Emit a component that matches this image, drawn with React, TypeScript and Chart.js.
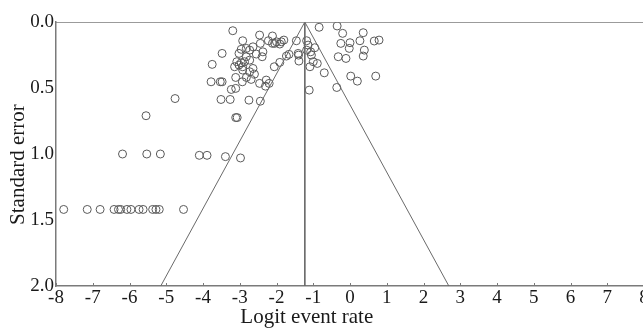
import React, { useEffect, useRef } from "react";
import { Chart, registerables } from "chart.js";

Chart.register(...registerables);

// Study effect sizes (logit event rate) and their standard errors
const studyLogit: number[] = [
  -3.19, -2.46, -2.11, -2.92, -2.22, -2.0, -1.8, -1.46, -1.18, -2.44,
  -2.11, -1.91, -1.14, -0.96, -0.84, -0.35, -0.2, 0.36, 0.27, 0.66,
  0.79, -0.25, 0.0, -0.02, 0.39, 0.36, -0.32, -0.11, 0.02, 0.2,
  0.7, -0.36, -0.7, -0.89, -1.09, -1.0, -1.11, -1.07, -1.05, -1.41,
  -1.39, -1.66, -1.73, -1.91, -2.06, -2.2, -2.28, -2.3, -2.46, -2.44,
  -2.75, -3.26, -3.51, -3.11, -3.07, -3.78, -3.53, -3.48, -3.23, -3.11,
  -3.11, -2.93, -2.82, -2.69, -2.6, -2.64, -2.92, -3.02, -3.14, -3.08,
  -2.96, -2.87, -2.73, -2.82, -3.02, -2.96, -2.82, -2.73, -2.64, -2.37,
  -2.55, -2.39, -3.48, -3.75, -2.92, -2.73, -2.05, -1.87, -1.18, -1.4,
  -5.55, -4.76,
  -6.19, -5.53, -5.16, -4.1, -3.89, -3.39, -2.98,
  -7.79, -7.15, -6.8, -6.42, -6.3, -6.24, -6.07, -5.96, -5.74, -5.63,
  -5.37, -5.28, -5.19, -4.53,
];
const studySE: number[] = [
  0.066, 0.099, 0.106, 0.142, 0.142, 0.15, 0.137, 0.142, 0.142, 0.162,
  0.162, 0.167, 0.175, 0.195, 0.04, 0.03, 0.086, 0.081, 0.142, 0.144,
  0.137, 0.162, 0.157, 0.2, 0.213, 0.258, 0.263, 0.276, 0.41, 0.448,
  0.41, 0.496, 0.385, 0.314, 0.339, 0.301, 0.516, 0.226, 0.251, 0.238,
  0.296, 0.245, 0.258, 0.306, 0.339, 0.465, 0.44, 0.486, 0.465, 0.6,
  0.592, 0.587, 0.587, 0.724, 0.724, 0.453, 0.453, 0.453, 0.511, 0.503,
  0.42, 0.453, 0.42, 0.435, 0.395, 0.352, 0.339, 0.326, 0.339, 0.301,
  0.309, 0.301, 0.289, 0.263, 0.238, 0.207, 0.2, 0.213, 0.188, 0.226,
  0.243, 0.263, 0.238, 0.321, 0.364, 0.377, 0.162, 0.15, 0.213, 0.251,
  0.71, 0.58,
  1.0, 1.0, 1.0, 1.01, 1.01, 1.02, 1.03,
  1.42, 1.42, 1.42, 1.42, 1.42, 1.42, 1.42, 1.42, 1.42, 1.42,
  1.42, 1.42, 1.42, 1.42,
];

// Pooled estimate and funnel (pseudo 95% limits) endpoints
const pooledLogit = -1.23;
const funnelX: number[] = [-5.15, -1.23, 2.69];
const funnelSE: number[] = [2.0, 0.0, 2.0];
const centerX: number[] = [-1.23, -1.23];
const centerSE: number[] = [0.0, 2.0];
const topLineX: number[] = [-8, 8];
const topLineSE: number[] = [0, 0];

const xTicks: number[] = [-8, -7, -6, -5, -4, -3, -2, -1, 0, 1, 2, 3, 4, 5, 6, 7, 8];
const yTicks: number[] = [0.0, 0.5, 1.0, 1.5, 2.0];

const xTitle = "Logit event rate";
const yTitle = "Standard error";

const FONT = "'Liberation Serif', 'Times New Roman', serif";

export default function App() {
  const ref = useRef<HTMLCanvasElement | null>(null);

  useEffect(() => {
    if (!ref.current) return;
    document.body.style.margin = "0";

    const axisGray = "#7a7a7a";

    const decorPlugin = {
      id: "decor",
      afterDraw(chart: any) {
        const ctx = chart.ctx;
        const xs = chart.scales.x;
        const ys = chart.scales.y;
        ctx.save();
        // inward tick marks on x axis
        ctx.strokeStyle = axisGray;
        ctx.lineWidth = 1;
        const yb = ys.getPixelForValue(2.0);
        xTicks.forEach((t) => {
          const px = Math.round(xs.getPixelForValue(t)) + 0.5;
          ctx.beginPath();
          ctx.moveTo(px, yb);
          ctx.lineTo(px, yb - 3);
          ctx.stroke();
        });
        // titles
        ctx.fillStyle = "#1a1a1a";
        ctx.font = `21px ${FONT}`;
        ctx.textAlign = "center";
        ctx.textBaseline = "alphabetic";
        ctx.fillText(xTitle, xs.getPixelForValue(pooledLogit) + 2, 323);
        ctx.translate(24, ys.getPixelForValue(1.08));
        ctx.rotate(-Math.PI / 2);
        ctx.fillText(yTitle, 0, 0);
        ctx.restore();
      },
    };

    const chart = new Chart(ref.current, {
      type: "scatter",
      data: {
        datasets: [
          {
            label: "top",
            data: topLineX.map((x, i) => ({ x, y: topLineSE[i] })),
            showLine: true,
            borderColor: axisGray,
            borderWidth: 1.5,
            pointRadius: 0,
          },
          {
            label: "funnel",
            data: funnelX.map((x, i) => ({ x, y: funnelSE[i] })),
            showLine: true,
            borderColor: "#6a6a6a",
            borderWidth: 1,
            pointRadius: 0,
          },
          {
            label: "center",
            data: centerX.map((x, i) => ({ x, y: centerSE[i] })),
            showLine: true,
            borderColor: "#6a6a6a",
            borderWidth: 1,
            pointRadius: 0,
          },
          {
            label: "studies",
            data: studyLogit.map((x, i) => ({ x, y: studySE[i] })),
            showLine: false,
            pointStyle: "circle",
            pointRadius: 4,
            pointBorderWidth: 1,
            pointBorderColor: "#5a5a5a",
            pointBackgroundColor: "rgba(0,0,0,0)",
          },
        ],
      },
      options: {
        responsive: false,
        animation: false,
        events: [],
        layout: { padding: { top: 22, right: 16, left: 0, bottom: 0 } },
        plugins: { legend: { display: false }, tooltip: { enabled: false } },
        scales: {
          x: {
            type: "linear",
            min: -8,
            max: 8,
            afterBuildTicks: (s: any) => {
              s.ticks = xTicks.map((v) => ({ value: v }));
            },
            afterFit: (s: any) => {
              s.height = 42;
            },
            ticks: {
              color: "#1a1a1a",
              font: { family: FONT, size: 19 },
              padding: 1,
              maxRotation: 0,
              autoSkip: false,
              callback: (v: any) => String(v),
            },
            grid: { display: false, drawTicks: false, tickLength: 0 },
            border: { display: true, color: axisGray, width: 1.5 },
          },
          y: {
            type: "linear",
            reverse: true,
            min: 0,
            max: 2,
            afterBuildTicks: (s: any) => {
              s.ticks = yTicks.map((v) => ({ value: v }));
            },
            afterFit: (s: any) => {
              s.width = 56;
            },
            ticks: {
              color: "#1a1a1a",
              font: { family: FONT, size: 19 },
              padding: 2,
              callback: (v: any) => Number(v).toFixed(1),
            },
            grid: { display: false, drawTicks: false, tickLength: 0 },
            border: { display: true, color: axisGray, width: 1.5 },
          },
        },
      },
      plugins: [decorPlugin],
    });
    return () => chart.destroy();
  }, []);

  return (
    <div
      style={{
        position: "fixed",
        left: 0,
        top: 0,
        width: 643,
        height: 328,
        overflow: "hidden",
        background: "#fff",
      }}
    >
      <canvas ref={ref} width={660} height={328} style={{ display: "block" }} />
    </div>
  );
}
